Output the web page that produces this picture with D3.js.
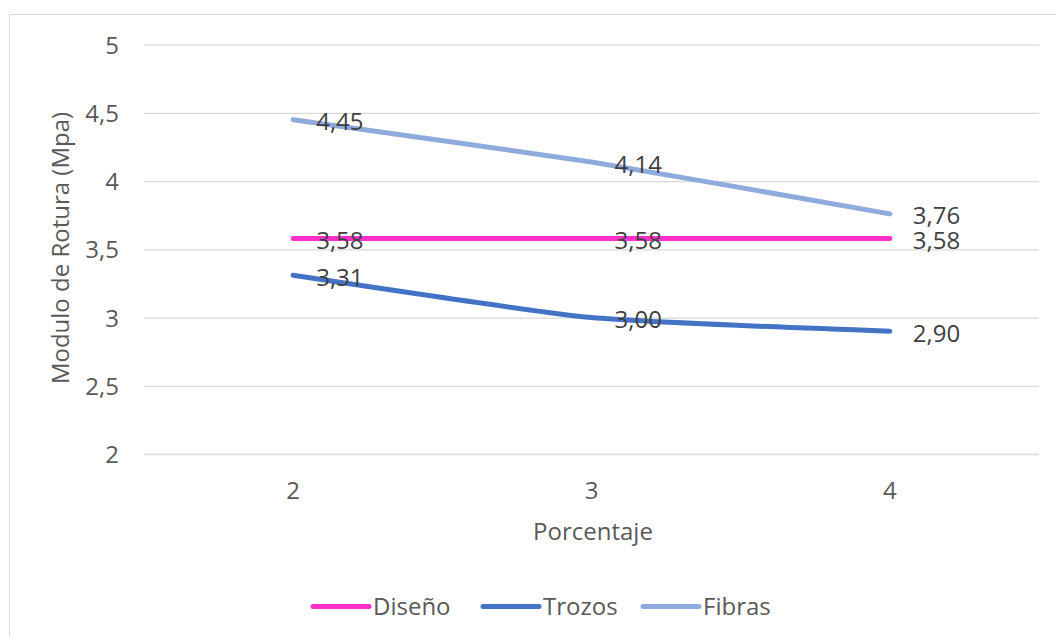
<!DOCTYPE html>
<html><head><meta charset="utf-8">
<script src="https://cdn.jsdelivr.net/npm/d3@7"></script>
<style>body{margin:0;background:#fff;} svg{display:block;font-family:"Open Sans",sans-serif;}</style>
</head><body>
<svg id="c" width="1056" height="637"></svg>
<script>
const categories = ["2","3","4"];
const yTicks = [2,2.5,3,3.5,4,4.5,5];
const seriesNames = ["Diseño","Trozos","Fibras"];
const seriesColors = ["#FF2FC8","#4472C4","#8FAADC"];
const diseno = [3.58,3.58,3.58];
const trozos = [3.31,3.00,2.90];
const fibras = [4.45,4.14,3.76];
const seriesValues = [diseno, trozos, fibras];
const fmt = v => v.toFixed(2).replace(".",",");

const svg = d3.select("#c");
svg.append("rect").attr("x",9.5).attr("y",14.5).attr("width",1100).attr("height",700)
  .attr("fill","none").attr("stroke","#d9d9d9").attr("stroke-width",1);

const x = d3.scaleBand().domain(categories).range([144,1039]);
const y = d3.scaleLinear().domain([2,5]).range([454,44.7]);

const yAxis = svg.append("g").attr("transform","translate(144,0)")
  .call(d3.axisLeft(y).tickValues(yTicks).tickSize(-(1039-144)).tickPadding(25)
    .tickFormat(d => String(d).replace(".",",")));
yAxis.select(".domain").remove();
yAxis.selectAll("line").attr("stroke","#d9d9d9").attr("stroke-width",1.3);
yAxis.selectAll("text").attr("fill","#595959").attr("dy","0.36em").style("font-size","24px").style("font-family","Open Sans");

const xAxis = svg.append("g").attr("transform","translate(0,454)")
  .call(d3.axisBottom(x).tickSize(0).tickPadding(28));
xAxis.select(".domain").remove();
xAxis.selectAll("text").attr("fill","#595959").style("font-size","24px").style("font-family","Open Sans");

svg.append("text").attr("x",593).attr("y",540).attr("text-anchor","middle")
  .attr("fill","#595959").style("font-size","24px").text("Porcentaje");
svg.append("text").attr("transform","translate(69,248) rotate(-90)").attr("text-anchor","middle")
  .attr("fill","#595959").style("font-size","24px").text("Modulo de Rotura (Mpa)");

const line = d3.line().x((d,i)=>x(categories[i])+x.bandwidth()/2).y(d=>y(d)).curve(d3.curveCardinal.tension(0.5));
seriesValues.forEach((vals,k)=>{
  svg.append("path").datum(vals).attr("d",line).attr("fill","none")
    .attr("stroke",seriesColors[k]).attr("stroke-width",5).attr("stroke-linecap","round");
});
seriesValues.forEach((vals,k)=>{
  svg.append("g").selectAll("text").data(vals).join("text")
    .attr("x",(d,i)=>x(categories[i])+x.bandwidth()/2+23)
    .attr("y",(d,i)=>y(d))
    .attr("dy","0.44em").attr("fill","#404040").style("font-size","24px").text(d=>fmt(d));
});

const legendX = [313,483,643];
const lg = svg.append("g");
seriesNames.forEach((n,k)=>{
  lg.append("line").attr("x1",legendX[k]).attr("x2",legendX[k]+56).attr("y1",606.5).attr("y2",606.5)
    .attr("stroke",seriesColors[k]).attr("stroke-width",5).attr("stroke-linecap","round");
  lg.append("text").attr("x",legendX[k]+60).attr("y",615)
    .attr("fill","#595959").style("font-size","24px").text(n);
});
</script>
</body></html>
